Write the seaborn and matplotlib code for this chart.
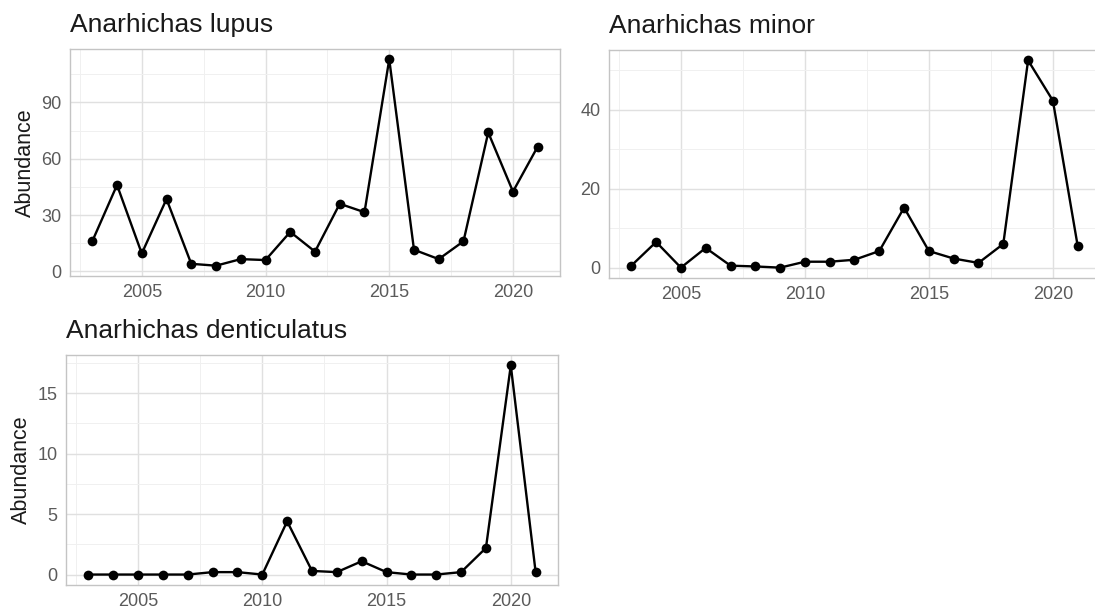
import numpy as np
import pandas as pd
import matplotlib
matplotlib.use("Agg")
import matplotlib.pyplot as plt
import seaborn as sb
from matplotlib.ticker import MultipleLocator

anos = list(range(2003, 2022))
lupus = [16, 46, 9.5, 38.5, 4, 3, 6.5, 6, 21, 10.5, 36, 31.5, 113, 11.5, 6.5, 16, 74, 42.5, 66.5]
minor = [0.5, 6.5, 0, 5, 0.5, 0.3, 0, 1.5, 1.5, 2, 4.2, 15.2, 4.2, 2.3, 1.2, 6, 52.5, 42.3, 5.5]
denticulatus = [0, 0, 0, 0, 0, 0.2, 0.2, 0, 4.4, 0.3, 0.2, 1.1, 0.2, 0, 0, 0.2, 2.2, 17.3, 0.2]

sb.set_style("white")
plt.rcParams["font.family"] = ["Liberation Sans", "DejaVu Sans"]

W, H = 1095, 615
fig = plt.figure(figsize=(W / 100, H / 100), dpi=100)

# (especie, valores, caixa em px: esquerda, topo, direita, base, passo y, ylabel)
paineis = [
    ("Anarhichas lupus", lupus, (70, 49, 560, 276), 30, True),
    ("Anarhichas minor", minor, (609, 50, 1100, 278), 20, False),
    ("Anarhichas denticulatus", denticulatus, (66, 355, 558, 585), 5, True),
]

for nome, valores, (x0, y0, x1, y1), passo, com_label in paineis:
    ax = fig.add_axes([x0 / W, 1 - y1 / H, (x1 - x0) / W, (y1 - y0) / H])
    df = pd.DataFrame({"ano": anos, "abund": valores})
    sb.lineplot(data=df, x="ano", y="abund", marker="o", color="black",
                markersize=7, markeredgewidth=0, linewidth=1.7, ax=ax, zorder=3)

    amp = max(valores) - min(valores)
    ax.set_ylim(min(valores) - 0.05 * amp, max(valores) + 0.05 * amp)
    ax.set_xlim(2003 - 0.9, 2021 + 0.9)

    ax.xaxis.set_major_locator(MultipleLocator(5))
    ax.xaxis.set_minor_locator(MultipleLocator(2.5))
    ax.yaxis.set_major_locator(MultipleLocator(passo))
    ax.yaxis.set_minor_locator(MultipleLocator(passo / 2))
    ax.grid(which="major", color="#E0E0E0", linewidth=1.0)
    ax.grid(which="minor", color="#F0F0F0", linewidth=0.7)
    ax.set_axisbelow(True)

    for s in ax.spines.values():
        s.set_color("#C4C4C4")
        s.set_linewidth(1.0)
    ax.tick_params(which="major", length=3, color="#C4C4C4", labelsize=13,
                   labelcolor="#5A5A5A", pad=3)
    ax.tick_params(which="minor", length=0)

    ax.set_xlabel("")
    ax.set_ylabel("Abundance" if com_label else "", fontsize=15.5, color="#1A1A1A", labelpad=4)
    ax.set_title(nome, loc="left", fontsize=19, color="#1A1A1A", pad=12)

fig.savefig("out.png", dpi=100)
